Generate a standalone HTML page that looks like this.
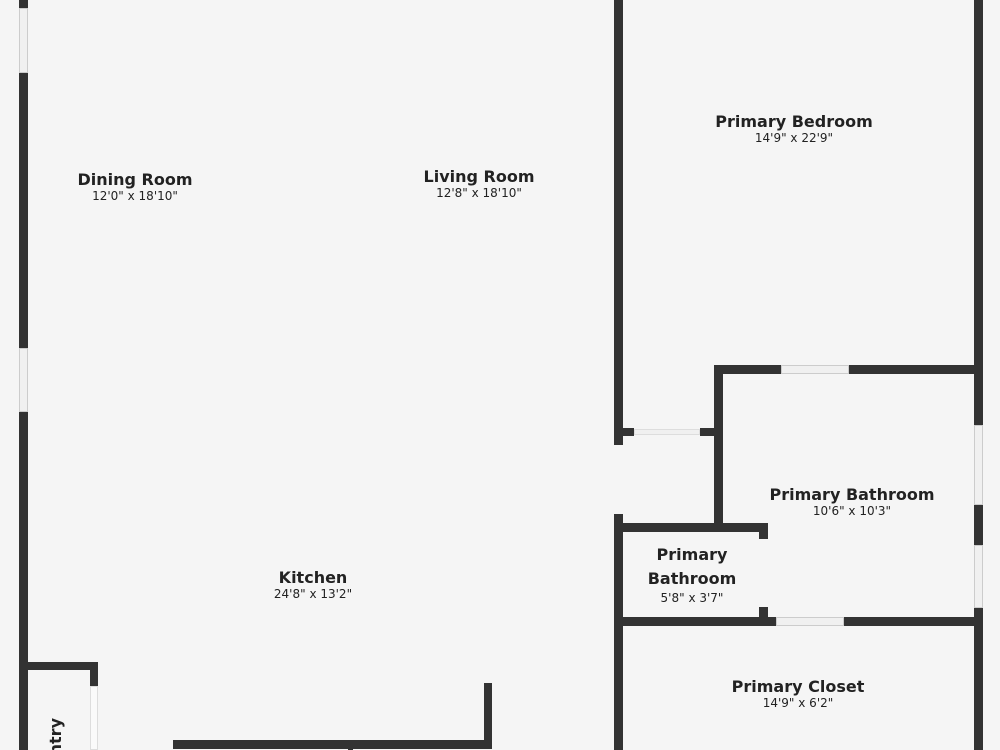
<!DOCTYPE html>
<html style="overflow:hidden;height:750px;width:1000px"><head><style>
body{margin:0;width:1000px;height:750px;background:#f5f5f5;position:relative;overflow:hidden;font-family:"DejaVu Sans","Liberation Sans",sans-serif;}
.w{position:absolute;background:#333;}
.g{position:absolute;background:#f0f0f0;border:1px solid #ccc;box-sizing:border-box;}
.t{position:absolute;text-align:center;color:#222;transform:translateX(-50%);white-space:nowrap;line-height:1.2;}
.t b{font-size:16px;display:block;}
.t span{font-size:12px;display:block;}
</style></head><body>
<div class="w" style="left:19px;top:0;width:9px;height:750px"></div>
<div class="g" style="left:19px;top:8px;width:9px;height:65px"></div>
<div class="g" style="left:19px;top:348px;width:9px;height:64px"></div>
<div class="w" style="left:614px;top:0;width:9px;height:445px"></div>
<div class="w" style="left:974px;top:0;width:9px;height:750px"></div>
<div class="g" style="left:974px;top:425px;width:9px;height:80px"></div>
<div class="g" style="left:974px;top:545px;width:9px;height:63px"></div>
<div class="w" style="left:714px;top:365px;width:265px;height:9px"></div>
<div class="g" style="left:781px;top:365px;width:68px;height:9px"></div>
<div class="w" style="left:714px;top:365px;width:9px;height:165px"></div>
<div class="w" style="left:614px;top:428px;width:20px;height:8px"></div>
<div class="w" style="left:700px;top:428px;width:22px;height:8px"></div>
<div class="g" style="left:634px;top:429px;width:66px;height:6px;border-color:#ddd"></div>
<div class="w" style="left:614px;top:514px;width:9px;height:236px"></div>
<div class="w" style="left:614px;top:523px;width:154px;height:9px"></div>
<div class="w" style="left:759px;top:523px;width:9px;height:16px"></div>
<div class="w" style="left:759px;top:607px;width:9px;height:18px"></div>
<div class="w" style="left:614px;top:617px;width:365px;height:9px"></div>
<div class="g" style="left:776px;top:617px;width:68px;height:9px"></div>
<div class="w" style="left:19px;top:662px;width:78px;height:8px"></div>
<div class="w" style="left:90px;top:662px;width:8px;height:24px"></div>
<div class="g" style="left:90px;top:686px;width:8px;height:64px;border-color:#ddd;background:#fafafa"></div>
<div class="w" style="left:173px;top:740px;width:319px;height:9px"></div>
<div class="w" style="left:484px;top:683px;width:8px;height:66px"></div>
<div class="w" style="left:348px;top:745px;width:5px;height:5px"></div>
<div class="t" style="left:135px;top:170px"><b>Dining Room</b><span>12'0" x 18'10"</span></div>
<div class="t" style="left:479px;top:167px"><b>Living Room</b><span>12'8" x 18'10"</span></div>
<div class="t" style="left:794px;top:112px"><b>Primary Bedroom</b><span>14'9" x 22'9"</span></div>
<div class="t" style="left:852px;top:485px"><b>Primary Bathroom</b><span>10'6" x 10'3"</span></div>
<div class="t" style="left:692px;top:543px"><b style="line-height:24px">Primary<br>Bathroom</b><span>5'8" x 3'7"</span></div>
<div class="t" style="left:313px;top:568px"><b>Kitchen</b><span>24'8" x 13'2"</span></div>
<div class="t" style="left:798px;top:677px"><b>Primary Closet</b><span>14'9" x 6'2"</span></div>
<div style="position:absolute;left:56px;top:718px;transform:rotate(-90deg);transform-origin:0 0;font-size:16px;font-weight:bold;color:#222;white-space:nowrap;line-height:1;">
<span style="position:absolute;right:0;top:-8px">Pantry</span></div>
</body></html>
